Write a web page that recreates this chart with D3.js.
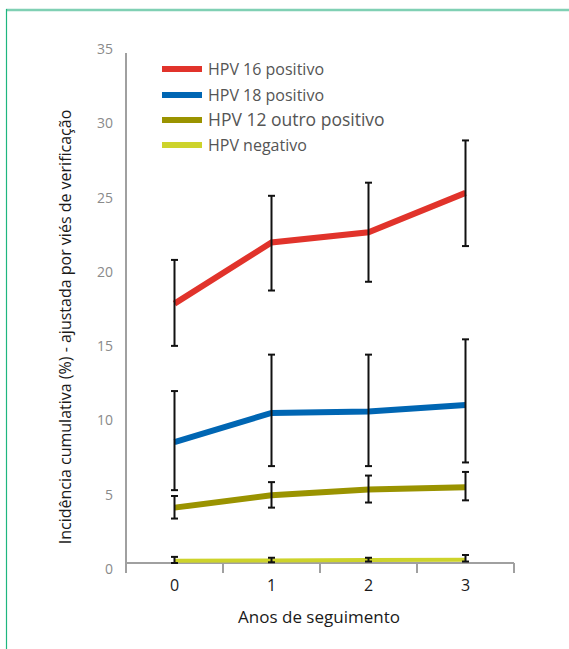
<!DOCTYPE html>
<html>
<head>
<meta charset="utf-8">
<script src="https://cdn.jsdelivr.net/npm/d3@7"></script>
<style>
  body { margin: 0; background: #fff; }
  svg { display: block; font-family: 'Open Sans', sans-serif; }
</style>
</head>
<body>
<div id="chart"></div>
<script>
let years = [0, 1, 2, 3]
let yTicks = [0, 5, 10, 15, 20, 25, 30, 35]

let seriesNames = ['HPV 16 positivo', 'HPV 18 positivo', 'HPV 12 outro positivo', 'HPV negativo']
let seriesColors = ['#e1332b', '#0066b3', '#9a9300', '#cdd32b']

// values and error bars (low / high)
let hpv16 = [17.8, 22.0, 22.7, 25.4]
let hpv16Low = [14.9, 18.7, 19.3, 21.75]
let hpv16High = [20.8, 25.2, 26.1, 29.0]

let hpv18 = [8.3, 10.3, 10.4, 10.85]
let hpv18Low = [5.0, 6.65, 6.65, 6.9]
let hpv18High = [11.8, 14.3, 14.3, 15.35]

let hpvOther = [3.8, 4.65, 5.05, 5.2]
let hpvOtherLow = [3.05, 3.8, 4.15, 4.3]
let hpvOtherHigh = [4.6, 5.55, 6.0, 6.25]

let hpvNeg = [0.15, 0.17, 0.2, 0.22]
let hpvNegLow = [0, 0.05, 0.1, 0.1]
let hpvNegHigh = [0.42, 0.36, 0.36, 0.55]

let series = [
  { values: hpv16, low: hpv16Low, high: hpv16High, width: 6 },
  { values: hpv18, low: hpv18Low, high: hpv18High, width: 6 },
  { values: hpvOther, low: hpvOtherLow, high: hpvOtherHigh, width: 6 },
  { values: hpvNeg, low: hpvNegLow, high: hpvNegHigh, width: 4 }
]

let W = 569, H = 649
let svg = d3.select('#chart').append('svg')
  .attr('width', W)
  .attr('height', H)

// frame
svg.append('line')
  .attr('x1', 6).attr('x2', W).attr('y1', 10).attr('y2', 10)
  .attr('stroke', '#80d0b4').attr('stroke-width', 2.5)
svg.append('line')
  .attr('x1', 6.5).attr('x2', 6.5).attr('y1', 9).attr('y2', H)
  .attr('stroke', '#1eb67f').attr('stroke-width', 1.2)

let xScale = d3.scaleBand().domain(years).range([126, 514])
let yScale = d3.scaleLinear().domain([0, 35]).range([563, 53])
let labelScale = d3.scaleLinear().domain([0, 35]).range([569, 49])
let cx = d => xScale(d) + xScale.bandwidth() / 2

// y axis line
svg.append('line')
  .attr('x1', 126).attr('x2', 126)
  .attr('y1', yScale(35)).attr('y2', 573)
  .attr('stroke', '#a0a0a0').attr('stroke-width', 2)

// y tick labels
let yAxis = d3.axisLeft(labelScale).tickValues(yTicks).tickSize(0).tickPadding(0)
let yg = svg.append('g')
  .attr('transform', 'translate(113,0)')
  .call(yAxis)
yg.select('.domain').remove()
yg.selectAll('text')
  .attr('fill', '#8a8a8a')
  .style('font-size', '14px')
  .style('font-family', "'Open Sans', sans-serif")

// x axis
let xAxis = d3.axisBottom(xScale).tickSize(0).tickPadding(17)
let xg = svg.append('g')
  .attr('transform', 'translate(0,' + yScale(0) + ')')
  .call(xAxis)
xg.select('.domain').attr('stroke', '#a0a0a0').attr('stroke-width', 2)
  .attr('d', 'M126,0H514')
xg.selectAll('text')
  .attr('fill', '#1a1a1a')
  .style('font-size', '16px')
  .style('font-family', "'Open Sans', sans-serif")

// category boundary ticks
let bounds = years.map(d => xScale(d)).concat([xScale(3) + xScale.bandwidth()])
svg.append('g').selectAll('line')
  .data(bounds.slice(1))
  .enter()
  .append('line')
  .attr('x1', d => d).attr('x2', d => d)
  .attr('y1', yScale(0)).attr('y2', 573)
  .attr('stroke', '#a0a0a0').attr('stroke-width', 2)

// axis titles
svg.append('text')
  .attr('x', 319).attr('y', 623)
  .attr('text-anchor', 'middle')
  .attr('fill', '#1a1a1a')
  .style('font-size', '17px')
  .text('Anos de seguimento')

svg.append('text')
  .attr('transform', 'translate(71,327) rotate(-90)')
  .attr('text-anchor', 'middle')
  .attr('fill', '#1a1a1a')
  .style('font-size', '16px')
  .text('Incidência cumulativa (%) - ajustada por viés de verificação')

let line = d3.line()
  .x((d, i) => cx(years[i]))
  .y(d => yScale(d))

// lines first, error bars on top
series.forEach((s, k) => {
  svg.append('path')
    .datum(s.values)
    .attr('d', line)
    .attr('fill', 'none')
    .attr('stroke', seriesColors[k])
    .attr('stroke-width', s.width)
})

series.forEach((s, k) => {
  let g = svg.append('g').attr('stroke', '#111').attr('stroke-width', 2)
  years.forEach((yr, i) => {
    let x = cx(yr)
    g.append('line')
      .attr('x1', x).attr('x2', x)
      .attr('y1', yScale(s.low[i])).attr('y2', yScale(s.high[i]))
    g.append('line')
      .attr('x1', x - 3.5).attr('x2', x + 3.5)
      .attr('y1', yScale(s.low[i])).attr('y2', yScale(s.low[i]))
    g.append('line')
      .attr('x1', x - 3.5).attr('x2', x + 3.5)
      .attr('y1', yScale(s.high[i])).attr('y2', yScale(s.high[i]))
  })
})

// legend
let legendY = [69, 95, 120, 145]
let legend = svg.append('g').selectAll('g')
  .data(seriesNames)
  .enter()
  .append('g')
  .attr('transform', (d, i) => 'translate(162,' + legendY[i] + ')')

legend.append('rect')
  .attr('x', 0).attr('y', -3)
  .attr('width', 40).attr('height', 6)
  .attr('fill', (d, i) => seriesColors[i])

legend.append('text')
  .attr('x', 46).attr('y', 0)
  .attr('dy', '0.35em')
  .attr('fill', '#555')
  .style('font-size', (d, i) => i === 2 ? '17.5px' : '16px')
  .text(d => d)
</script>
</body>
</html>
